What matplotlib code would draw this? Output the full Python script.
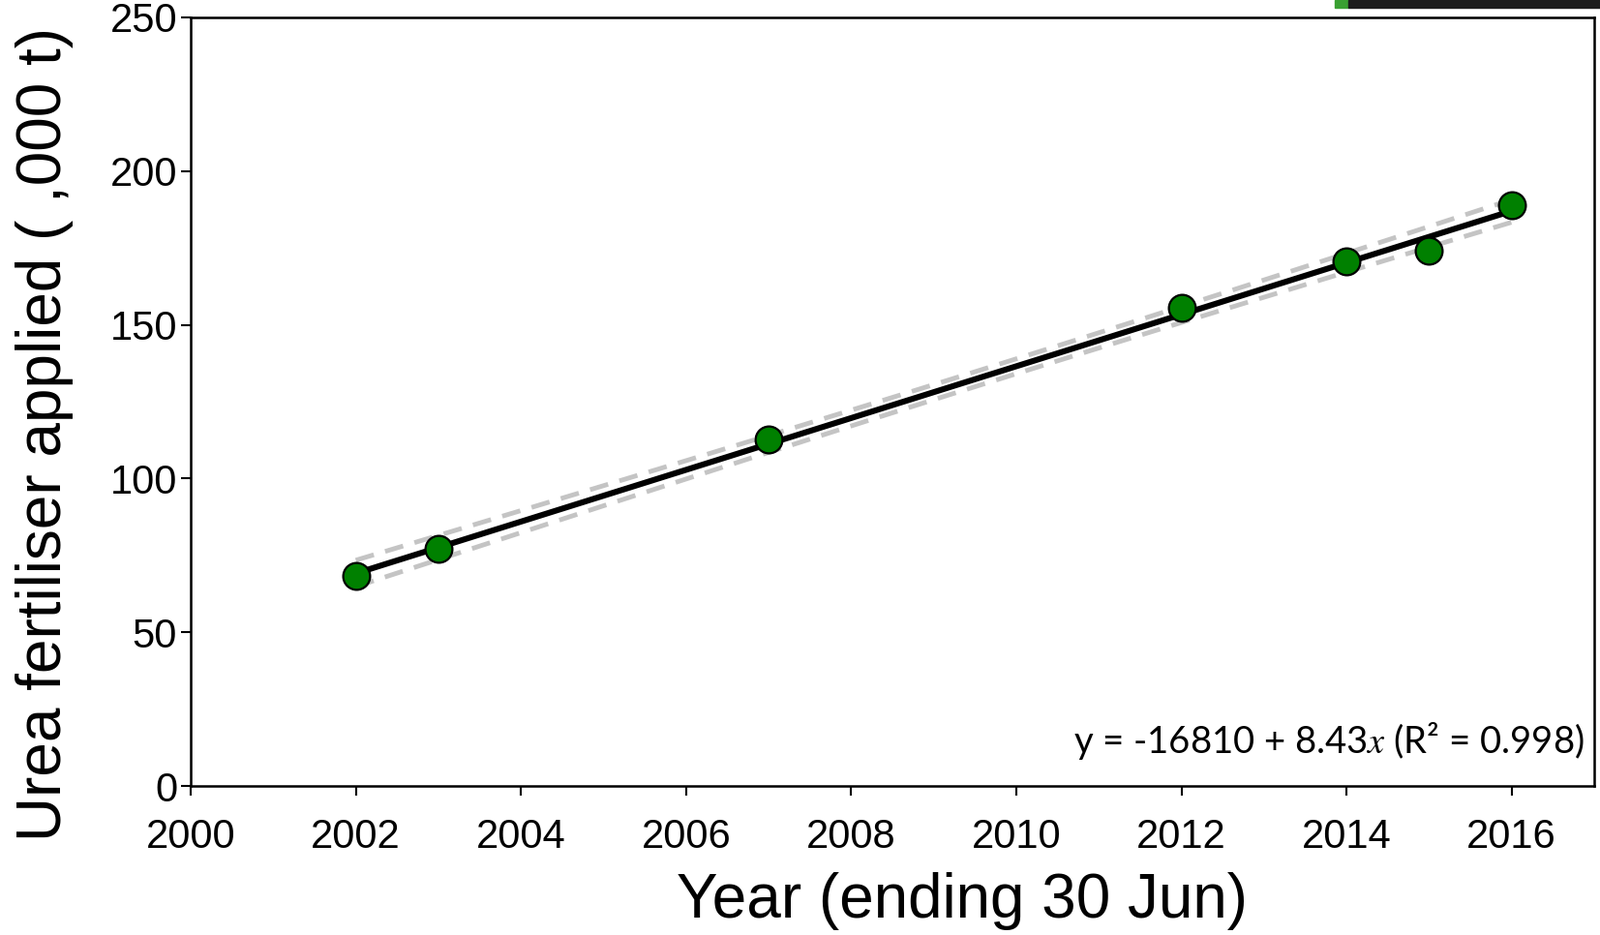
import numpy as np
import matplotlib.pyplot as plt
from matplotlib.patches import Rectangle

# ---------------- Data ----------------
years = np.array([2002, 2003, 2007, 2012, 2014, 2015, 2016])
urea = np.array([68.3, 77.0, 112.8, 155.6, 170.5, 174.2, 188.8])
x_ticks = [2000, 2002, 2004, 2006, 2008, 2010, 2012, 2014, 2016]
y_ticks = [0, 50, 100, 150, 200, 250]

# ---------------- Linear fit + confidence band ----------------
slope, intercept = np.polyfit(years, urea, 1)
xs = np.linspace(years.min(), years.max(), 100)
fit = intercept + slope * xs
resid = urea - (intercept + slope * years)
n = len(years)
s = np.sqrt(np.sum(resid ** 2) / (n - 2))
se = s * np.sqrt(1 / n + (xs - years.mean()) ** 2 / np.sum((years - years.mean()) ** 2))
ci = 2.57 * se

plt.rcParams['font.family'] = ['Liberation Sans', 'DejaVu Sans']
plt.rcParams['mathtext.fontset'] = 'stix'
fig = plt.figure(figsize=(16.53, 9.66), dpi=100)
ax = fig.add_axes([197 / 1653, 1 - 812 / 966, 1450 / 1653, 794 / 966])

ax.plot(xs, fit + ci, color="#c4c4c4", lw=3.5, ls=(0, (4, 2.5)), zorder=1)
ax.plot(xs, fit - ci, color="#c4c4c4", lw=3.5, ls=(0, (4, 2.5)), zorder=1)
ax.plot(xs, fit, color="black", lw=4.4, zorder=2)
ax.plot(years, urea, "o", color="#008000", markeredgecolor="black",
        markeredgewidth=1.6, markersize=20, zorder=3)

ax.set_xlim(2000, 2017)
ax.set_ylim(0, 250)
ax.set_xticks(x_ticks)
ax.set_yticks(y_ticks)
ax.tick_params(axis="both", labelsize=30, length=7, width=1.5, direction="out",
               top=False, right=False)
ax.tick_params(axis="x", pad=17)
ax.tick_params(axis="y", pad=3)
for sp in ax.spines.values():
    sp.set_linewidth(1.8)

fig.text(943 / 1568, 1 - 883 / 916, "Year (ending 30 Jun)", fontsize=46,
         ha="center", va="center")
fig.text(44 / 1568, 1 - 425 / 916, "Urea fertiliser applied ( ,000 t)",
         fontsize=46, rotation=90, ha="center", va="center")

ax.text(0.993, 0.058, "y = -16810 + 8.43$x$ (R² = 0.998)",
        transform=ax.transAxes, ha="right", va="center", fontsize=27.5,
        family=["Lato", "DejaVu Sans"])

# screenshot artefact at top right
fig.patches.append(Rectangle((1379 / 1653, 1 - 8 / 966), 14 / 1653, 8 / 966,
                             transform=fig.transFigure, color="#3aa032"))
fig.patches.append(Rectangle((1393 / 1653, 1 - 8 / 966), 260 / 1653, 8 / 966,
                             transform=fig.transFigure, color="#1c1c1c"))

fig.savefig("out.png", dpi=100)
